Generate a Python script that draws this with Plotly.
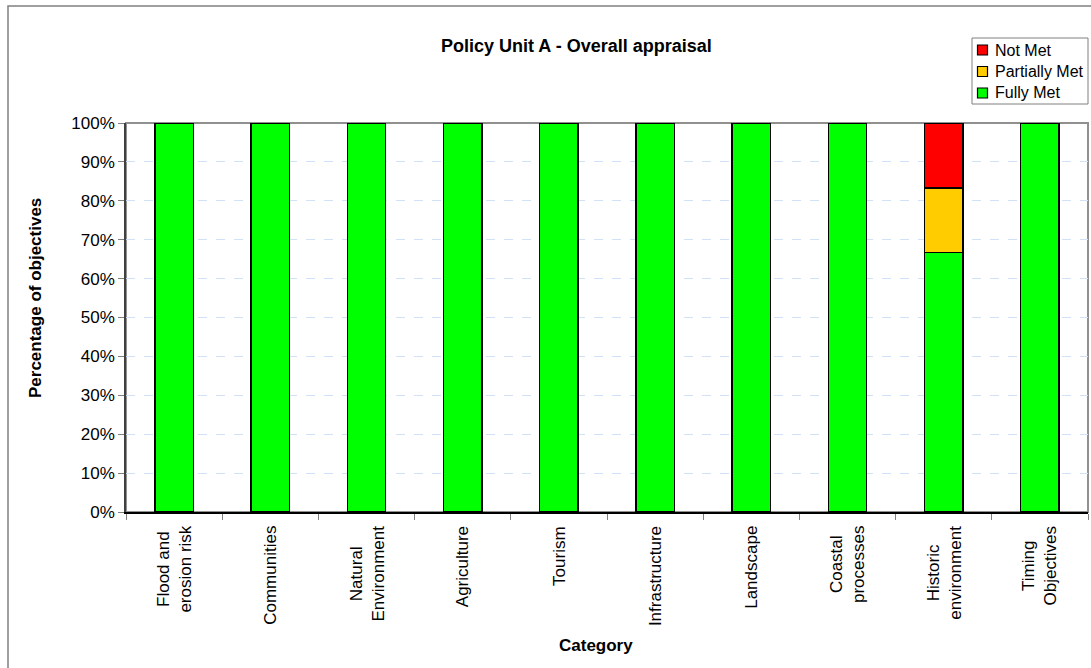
import plotly.graph_objects as go

# Appraisal categories (line breaks as shown on the axis)
categories = [
    "Flood and<br>erosion risk",
    "Communities",
    "Natural<br>Environment",
    "Agriculture",
    "Tourism",
    "Infrastructure",
    "Landscape",
    "Coastal<br>processes",
    "Historic<br>environment",
    "Timing<br>Objectives",
]

# Percentage of objectives in each outcome band
fully_met = [100, 100, 100, 100, 100, 100, 100, 100, 66.67, 100]
partially_met = [0, 0, 0, 0, 0, 0, 0, 0, 16.67, 0]
not_met = [0, 0, 0, 0, 0, 0, 0, 0, 16.67, 0]

series_names = ["Fully Met", "Partially Met", "Not Met"]
series_colors = ["#00ff00", "#ffcc00", "#ff0000"]

y_ticks = [0, 10, 20, 30, 40, 50, 60, 70, 80, 90, 100]
y_tick_text = [f"{v}%" for v in y_ticks]

FONT = "Liberation Sans, Arial, Helvetica, sans-serif"

# page layout in pixels
W, H = 1091, 668
L, R, T, B = 126, 3, 123, 156
PW, PH = W - L - R, H - T - B


def px(x):
    return (x - L) / PW


def py(y):
    return (H - B - y) / PH


fig = go.Figure()
for name, vals, color in zip(series_names, [fully_met, partially_met, not_met], series_colors):
    fig.add_trace(go.Bar(
        x=list(range(len(categories))), y=vals, name=name,
        marker=dict(color=color, line=dict(color="#000000", width=1.5)),
        hovertext=[c.replace("<br>", " ") for c in categories],
        hoverinfo="text+y+name",
        showlegend=False,
    ))

shapes = [
    # plot area frame
    dict(type="rect", xref="paper", yref="paper", x0=0, y0=0, x1=1, y1=1,
         line=dict(color="#909090", width=2), layer="below"),
    # chart area frame
    dict(type="rect", xref="paper", yref="paper",
         x0=px(8), y0=py(H + 20), x1=px(W + 40), y1=py(6),
         line=dict(color="#808080", width=1.5), layer="below"),
    # legend box
    dict(type="rect", xref="paper", yref="paper",
         x0=px(972), y0=py(104), x1=px(1088), y1=py(38),
         line=dict(color="#808080", width=1), fillcolor="white", layer="above"),
]

annotations = [
    dict(text="<b>Policy Unit A - Overall appraisal</b>", xref="paper", yref="paper",
         x=px(576), y=py(46), xanchor="center", yanchor="middle", showarrow=False,
         font=dict(family=FONT, size=18)),
    dict(text="<b>Percentage of objectives</b>", xref="paper", yref="paper",
         x=px(35), y=py(298), xanchor="center", yanchor="middle", showarrow=False,
         textangle=-90, font=dict(family=FONT, size=17)),
    dict(text="<b>Category</b>", xref="paper", yref="paper",
         x=px(596), y=py(645), xanchor="center", yanchor="middle", showarrow=False,
         font=dict(family=FONT, size=17)),
]

# category labels, rotated and centre-aligned
for i, cat in enumerate(categories):
    annotations.append(dict(
        text=cat, xref="x", yref="paper", x=i, y=py(524),
        xanchor="center", yanchor="top", textangle=-90, align="center",
        showarrow=False, font=dict(family=FONT, size=17),
    ))

# legend entries, top to bottom: Not Met, Partially Met, Fully Met
legend_rows = [50, 71.5, 93]
for row_y, name, color in zip(legend_rows, series_names[::-1], series_colors[::-1]):
    shapes.append(dict(type="rect", xref="paper", yref="paper",
                       x0=px(977.5), x1=px(987.5), y0=py(row_y + 5), y1=py(row_y - 5),
                       fillcolor=color, line=dict(color="#000000", width=1.2), layer="above"))
    annotations.append(dict(text=name, xref="paper", yref="paper",
                            x=px(993), y=py(row_y), xanchor="left", yanchor="middle",
                            showarrow=False, font=dict(family=FONT, size=16)))

fig.update_layout(
    width=W, height=H,
    margin=dict(l=L, r=R, t=T, b=B),
    barmode="stack", bargap=0.6,
    paper_bgcolor="white", plot_bgcolor="white",
    font=dict(family=FONT, size=17, color="#000000"),
    showlegend=False,
    xaxis=dict(
        range=[-0.5, len(categories) - 0.5],
        tickvals=[i + 0.5 for i in range(-1, len(categories))],
        showticklabels=False,
        ticks="outside", ticklen=6, tickcolor="#808080", tickwidth=1,
        showline=True, linecolor="#000000", linewidth=1.5,
        showgrid=False, zeroline=False,
    ),
    yaxis=dict(
        range=[0, 100],
        tickvals=y_ticks, ticktext=y_tick_text,
        ticks="outside", ticklen=6, tickcolor="#808080", tickwidth=1,
        showline=True, linecolor="#404040", linewidth=1.5,
        showgrid=True, gridcolor="#cfe2f7", griddash="dash", gridwidth=1,
        zeroline=False,
        tickfont=dict(family=FONT, size=17),
    ),
    shapes=shapes,
    annotations=annotations,
)

fig.write_html("out.html")
